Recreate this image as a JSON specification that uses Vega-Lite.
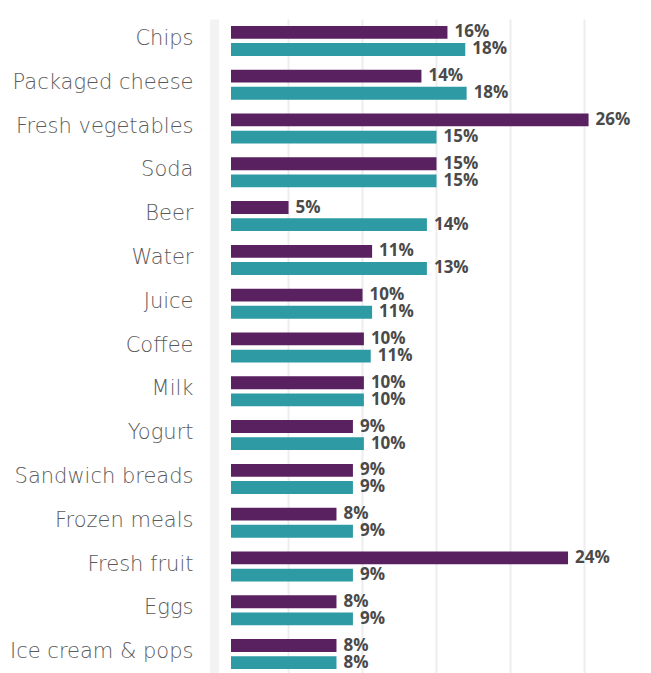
{
  "$schema": "https://vega.github.io/schema/vega-lite/v6.json",
  "autosize": {"type": "none"},
  "width": 437,
  "height": 657,
  "padding": {"left": 214, "top": 19, "right": 0, "bottom": 0},
  "background": "white",
  "config": {"view": {"stroke": null}},
  "data": {"values": [
    {"category": "Chips", "series": "A", "value": 15.8, "label": "16%"},
    {"category": "Chips", "series": "B", "value": 17.1, "label": "18%"},
    {"category": "Packaged cheese", "series": "A", "value": 13.9, "label": "14%"},
    {"category": "Packaged cheese", "series": "B", "value": 17.2, "label": "18%"},
    {"category": "Fresh vegetables", "series": "A", "value": 26.1, "label": "26%"},
    {"category": "Fresh vegetables", "series": "B", "value": 15.0, "label": "15%"},
    {"category": "Soda", "series": "A", "value": 15.0, "label": "15%"},
    {"category": "Soda", "series": "B", "value": 15.0, "label": "15%"},
    {"category": "Beer", "series": "A", "value": 4.2, "label": "5%"},
    {"category": "Beer", "series": "B", "value": 14.3, "label": "14%"},
    {"category": "Water", "series": "A", "value": 10.3, "label": "11%"},
    {"category": "Water", "series": "B", "value": 14.3, "label": "13%"},
    {"category": "Juice", "series": "A", "value": 9.6, "label": "10%"},
    {"category": "Juice", "series": "B", "value": 10.3, "label": "11%"},
    {"category": "Coffee", "series": "A", "value": 9.7, "label": "10%"},
    {"category": "Coffee", "series": "B", "value": 10.2, "label": "11%"},
    {"category": "Milk", "series": "A", "value": 9.7, "label": "10%"},
    {"category": "Milk", "series": "B", "value": 9.7, "label": "10%"},
    {"category": "Yogurt", "series": "A", "value": 8.9, "label": "9%"},
    {"category": "Yogurt", "series": "B", "value": 9.7, "label": "10%"},
    {"category": "Sandwich breads", "series": "A", "value": 8.9, "label": "9%"},
    {"category": "Sandwich breads", "series": "B", "value": 8.9, "label": "9%"},
    {"category": "Frozen meals", "series": "A", "value": 7.7, "label": "8%"},
    {"category": "Frozen meals", "series": "B", "value": 8.9, "label": "9%"},
    {"category": "Fresh fruit", "series": "A", "value": 24.6, "label": "24%"},
    {"category": "Fresh fruit", "series": "B", "value": 8.9, "label": "9%"},
    {"category": "Eggs", "series": "A", "value": 7.7, "label": "8%"},
    {"category": "Eggs", "series": "B", "value": 8.9, "label": "9%"},
    {"category": "Ice cream & pops", "series": "A", "value": 7.7, "label": "8%"},
    {"category": "Ice cream & pops", "series": "B", "value": 7.7, "label": "8%"}
  ]},
  "encoding": {
    "y": {
      "field": "category", "type": "nominal", "sort": null, "title": null,
      "scale": {"paddingInner": 0.315, "paddingOuter": 0.1575},
      "axis": {
        "ticks": false, "domain": false, "labelPadding": 21,
        "labelFont": "DejaVu Sans", "labelFontWeight": 200, "labelFontSize": 21,
        "labelColor": "#5a5a5a", "labelOffset": -2, "labelLimit": 260
      }
    },
    "yOffset": {"field": "series", "type": "nominal", "scale": {"paddingInner": 0.25}},
    "x": {
      "field": "value", "type": "quantitative", "title": null,
      "scale": {"domain": [-1.2409, 30.6569], "nice": false, "zero": false},
      "axis": {
        "values": [-1.2409, 4.1606, 9.562, 14.9635, 20.365, 25.7664],
        "labels": false, "ticks": false, "domain": false, "grid": true,
        "gridColor": {"condition": {"test": "datum.value < 0", "value": "#f3f3f3"}, "value": "#ededed"},
        "gridWidth": {"condition": {"test": "datum.value < 0", "value": 9}, "value": 2}
      }
    }
  },
  "layer": [
    {
      "mark": {"type": "bar"},
      "encoding": {
        "color": {"field": "series", "type": "nominal", "legend": null,
          "scale": {"domain": ["A", "B"], "range": ["#5a2160", "#2d9aa4"]}}
      }
    },
    {
      "mark": {"type": "text", "align": "left", "baseline": "middle", "dx": 7, "font": "Open Sans", "fontWeight": "bold", "fontSize": 17, "color": "#4a4a4a"},
      "encoding": {"text": {"field": "label"}}
    }
  ]
}
